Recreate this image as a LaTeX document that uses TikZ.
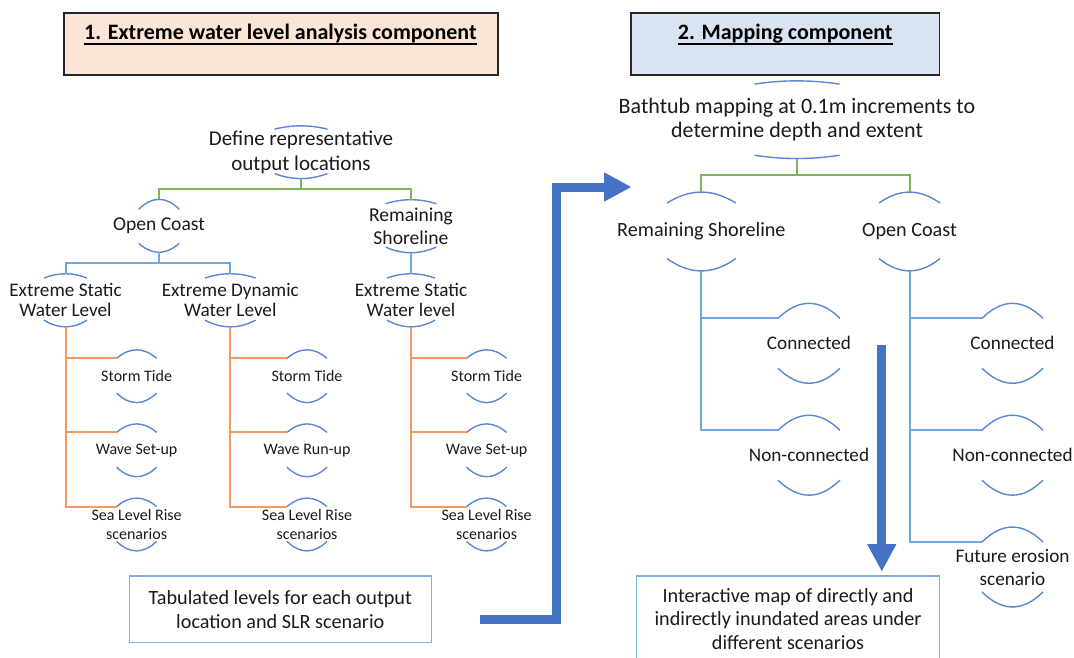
\documentclass[tikz,border=0pt]{standalone}
\usepackage{fontspec}
\setmainfont{Carlito}
\usetikzlibrary{calc,arrows.meta}
\definecolor{arcblue}{HTML}{5A86D5}
\definecolor{lgreen}{HTML}{7DB65A}
\definecolor{lblue}{HTML}{72A6DE}
\definecolor{lorange}{HTML}{F29A60}
\definecolor{arrowblue}{HTML}{4472C4}
\definecolor{peach}{HTML}{FBE5D6}
\definecolor{paleblue}{HTML}{DAE3F3}
\definecolor{boxblue}{HTML}{7FB0E3}
\definecolor{txt}{HTML}{1A1A1A}
\newcommand\fs[2]{\fontsize{#1}{#2}\selectfont}
% #1 node, #2 half width, #3 top sagitta, #4 bottom sagitta
\newcommand\arcpair[4]{%
  \draw[arcline] ($(#1.north)+(-#2,#3)$) .. controls ($(#1.north)+({-#2/3},{-#3/3})$) and ($(#1.north)+({#2/3},{-#3/3})$) .. ($(#1.north)+(#2,#3)$);
  \draw[arcline] ($(#1.south)+(-#2,-#4)$) .. controls ($(#1.south)+({-#2/3},{#4/3})$) and ($(#1.south)+({#2/3},{#4/3})$) .. ($(#1.south)+(#2,-#4)$);
}
\begin{document}
\begin{tikzpicture}[x=1pt,y=-1pt,
  every node/.style={text=txt, inner sep=0pt, align=center},
  arcline/.style={draw=arcblue, line width=1.4pt},
  greenline/.style={draw=lgreen, line width=2pt},
  blueline/.style={draw=lblue, line width=2pt},
  orangeline/.style={draw=lorange, line width=2pt},
  bigarrow/.style={draw=arrowblue, line width=9pt, line join=miter, -{Triangle[width=27pt,length=27.5pt]}},
  titlebox/.style={draw=black!85, line width=1.8pt},
  titletext/.style={font=\fs{22}{26}\bfseries, text=black},
  uline/.style={draw=black, line width=1.6pt},
  bluebox/.style={draw=boxblue, line width=1.4pt, font=\fs{20.2}{23.7}},
  rootL/.style={font=\fs{21}{24.6}, minimum height=52.3pt},
  ltwoL/.style={font=\fs{19.6}{22.4}, minimum height=52.6pt},
  lthreeL/.style={font=\fs{19.2}{20}, minimum height=52.7pt},
  leafL/.style={font=\fs{16}{18.3}, minimum height=52.4pt},
  rootR/.style={font=\fs{22}{24}, minimum height=77.3pt},
  ltwoR/.style={font=\fs{20.2}{23}, minimum height=78.4pt},
  leafR/.style={font=\fs{19.2}{23}, minimum height=79.5pt}
]
\useasboundingbox (0,0) rectangle (1074,657);

% ---------- titles
\node[titlebox, fill=peach, minimum width=434.2pt, minimum height=61.7pt] (box1) at (280.9,44.15) {};
\node[titletext, anchor=base] (t1) at ($(box1.north)+(-0.5,27.4)$) {1. Extreme water level analysis component};
\draw[uline] ($(t1.base west)+(0,4.3)$) -- ($(t1.base east)+(0,4.3)$);

\node[titlebox, fill=paleblue, minimum width=308.5pt, minimum height=61.7pt] (box2) at (785.25,44.15) {};
\node[titletext, anchor=base] (t2) at ($(box2.north)+(0,27.4)$) {2. Mapping component};
\draw[uline] ($(t2.base west)+(0,4.3)$) -- ($(t2.base east)+(0,4.3)$);

% ---------- left tree
\node[rootL] (def) at (301,152.2) {Define representative\\output locations};
\node[ltwoL] (oc) at (159,225.8) {Open Coast};
\node[ltwoL] (rs) at (411,226.2) {Remaining\\Shoreline};
\node[lthreeL] (es1) at (65.5,300.3) {Extreme Static\\Water Level};
\node[lthreeL] (ed) at (230.3,300.3) {Extreme Dynamic\\Water Level};
\node[lthreeL] (es3) at (411,300.3) {Extreme Static\\Water level};

\node[leafL] (st1) at (136.6,376.2) {Storm Tide};
\node[leafL] (ws1) at (136.6,450.3) {Wave Set-up};
\node[leafL] (slr1) at (136.6,524.5) {Sea Level Rise\\scenarios};
\node[leafL] (st2) at (307,376.2) {Storm Tide};
\node[leafL] (ws2) at (307,450.3) {Wave Run-up};
\node[leafL] (slr2) at (307,524.5) {Sea Level Rise\\scenarios};
\node[leafL] (st3) at (486.6,376.2) {Storm Tide};
\node[leafL] (ws3) at (486.6,450.3) {Wave Set-up};
\node[leafL] (slr3) at (486.6,524.5) {Sea Level Rise\\scenarios};

\arcpair{def}{26.5}{3.3}{5}
\arcpair{oc}{20.3}{10}{9}
\arcpair{rs}{25.3}{4}{5.6}
\arcpair{es1}{21.5}{4.3}{6.7}
\arcpair{ed}{25.3}{4.3}{6.7}
\arcpair{es3}{24}{4.3}{6.7}
\foreach \n in {st1,ws1,slr1,st2,ws2,slr2,st3,ws3,slr3}{\arcpair{\n}{20}{8.5}{9.5}}

\draw[greenline] (def.south) -- ++(0,10.7) coordinate (gl) -| (oc.north);
\draw[greenline] (gl) -| (rs.north);
\draw[blueline] (oc.south) -- ++(0,11) coordinate (bl) -| (es1.north);
\draw[blueline] (bl) -| (ed.north);
\draw[blueline] (rs.south) -- (es3.north);
\foreach \p/\k in {es1/1,ed/2,es3/3}{
  \foreach \l in {st,ws,slr}{
    \draw[orangeline] (\p.south) |- ($(\l\k.north)+(-20,8.5)$);
  }
}

% ---------- right tree
\node[rootR] (bath) at (797,119.7) {Bathtub mapping at 0.1m increments to\\determine depth and extent};
\node[ltwoR] (rs2) at (701.4,231.5) {Remaining Shoreline};
\node[ltwoR] (oc2) at (909.5,231.5) {Open Coast};
\node[leafR] (c1) at (809,343.3) {Connected};
\node[leafR] (n1) at (809,455.2) {Non-connected};
\node[leafR] (c2) at (1012.5,343.3) {Connected};
\node[leafR] (n2) at (1012.5,455.2) {Non-connected};
\node[leafR] (f2) at (1012.5,567) {Future erosion\\scenario};

\arcpair{bath}{42.5}{3.3}{3.3}
\arcpair{rs2}{34.4}{11}{12.4}
\arcpair{oc2}{30.5}{11}{12.4}
\foreach \n in {c1,n1}{\arcpair{\n}{31}{15}{15}}
\foreach \n in {c2,n2,f2}{\arcpair{\n}{30.5}{15}{15}}

\draw[greenline] (bath.south) -- ++(0,16.7) coordinate (gr) -| (rs2.north);
\draw[greenline] (gr) -| (oc2.north);
\foreach \n in {c1,n1}{\draw[blueline] (rs2.south) |- ($(\n.north)+(-31,15)$);}
\foreach \n in {c2,n2,f2}{\draw[blueline] (oc2.south) |- ($(\n.north)+(-30.5,15)$);}

% ---------- output boxes
\node[bluebox, minimum width=302pt, minimum height=66.7pt] (tab) at (280.3,609.3) {Tabulated levels for each output\\location and SLR scenario};
\node[bluebox, minimum width=303pt, minimum height=86pt] (map) at (788,619) {Interactive map of directly and\\indirectly inundated areas under\\different scenarios};

% ---------- big arrows
\coordinate (a1s) at (480,619.5);
\coordinate (a1e) at (631.7,187);
\draw[bigarrow] (a1s) -- ++(76,0) |- (a1e);
\coordinate (a2s) at (881.8,345);
\coordinate (a2e) at (881.8,571.7);
\draw[bigarrow] (a2s) -- (a2e);
\end{tikzpicture}
\end{document}
